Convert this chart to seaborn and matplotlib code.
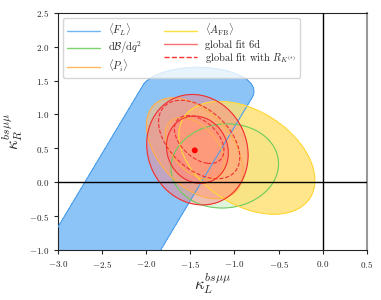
import numpy as np
import matplotlib
matplotlib.use("Agg")
import matplotlib.pyplot as plt
import seaborn as sns
from matplotlib.lines import Line2D

# Likelihood shapes (Gaussian approximations)
# each: centre x, centre y, sigma x, sigma y, correlation
fl_axis = [-2.035, 0.0, 65.3]          # point on band axis, axis angle (deg)
fl_width = [0.395, 0.25, 1.475, 0.30]  # sigma across, sigma of cap, cap start, cap tilt
dbr_par = [-1.11, 0.24, 0.245, 0.25, 0.05]
pi_par = [-1.45, 0.50, 0.22, 0.30, -0.45]
afb_par = [-0.86, 0.36, 0.31, 0.335, -0.40]
fit6d_par = [-1.42, 0.48, 0.231, 0.328, -0.10]
fitrk_par = [-1.40, 0.63, 0.185, 0.233, -0.45]
best_fit_x = [-1.45]
best_fit_y = [0.47]

levels = [2.30, 6.18]
xticks = [-3.0, -2.5, -2.0, -1.5, -1.0, -0.5, 0.0, 0.5]
yticks = [-1.0, -0.5, 0.0, 0.5, 1.0, 1.5, 2.0, 2.5]

sns.set_style("ticks")
plt.rcParams["font.family"] = "serif"
plt.rcParams["font.serif"] = ["cmr10", "DejaVu Serif"]
plt.rcParams["mathtext.fontset"] = "cm"
plt.rcParams["axes.formatter.use_mathtext"] = True
plt.rcParams["axes.unicode_minus"] = True

xg = np.linspace(-3.6, 1.0, 500)
yg = np.linspace(-1.6, 3.0, 500)
X, Y = np.meshgrid(xg, yg)


def chi2_gauss(p):
    cx, cy, sx, sy, rho = p
    dx = (X - cx) / sx
    dy = (Y - cy) / sy
    return (dx**2 - 2 * rho * dx * dy + dy**2) / (1 - rho**2)


def chi2_band():
    x0, y0, ang = fl_axis
    su, sv, v0, tilt = fl_width
    a = np.deg2rad(ang)
    v = (X - x0) * np.cos(a) + (Y - y0) * np.sin(a)
    u = -(X - x0) * np.sin(a) + (Y - y0) * np.cos(a)
    cap = np.clip(v + tilt * u - v0, 0, None)
    return (u / su) ** 2 + (cap / sv) ** 2


def draw(ax, z, fill, edge, alpha, lvls, ls="-", filled=True, lw=0.8):
    if filled:
        for lv in lvls[::-1]:
            ax.contourf(X, Y, z, levels=[0, lv], colors=[fill], alpha=alpha,
                        zorder=1)
    ax.contour(X, Y, z, levels=sorted(lvls), colors=[edge], linewidths=lw,
               linestyles=ls, zorder=3)


fig = plt.figure(figsize=(3.81, 3.0), dpi=100)
ax = fig.add_axes([0.152, 0.167, 0.811, 0.79])

draw(ax, chi2_band(), "#8cc4f8", "#4f9fec", 1.0, [levels[0]])
draw(ax, chi2_gauss(dbr_par), "#a6e39a", "#6ccc5c", 0.35, [levels[1]])
draw(ax, chi2_gauss(pi_par), "#ffbc78", "#ffb04a", 0.6, levels)
draw(ax, chi2_gauss(afb_par), "#ffe070", "#ffd83a", 0.8, [levels[1]])
draw(ax, chi2_gauss(fit6d_par), "#ff8080", "#f03030", 0.45, levels)
draw(ax, chi2_gauss(fitrk_par), "#ff8a8a", "#f03030", 0.0, levels,
     ls="--", filled=False)

sns.scatterplot(x=best_fit_x, y=best_fit_y, color="#ff0000", s=18,
                edgecolor="none", ax=ax, zorder=5)

ax.axhline(0, color="black", lw=1.0, zorder=4)
ax.axvline(0, color="black", lw=1.0, zorder=4)

ax.set_xlim(-3.0, 0.5)
ax.set_ylim(-1.0, 2.5)
ax.set_xticks(xticks)
ax.set_yticks(yticks)
ax.tick_params(labelsize=6.5, length=3, width=0.8)
ax.spines["right"].set_color("#999999")
ax.spines["right"].set_linewidth(1.5)

ax.set_xlabel(r"$\kappa_L^{bs\mu\mu}$", fontsize=12, labelpad=0)
ax.set_ylabel(r"$\kappa_R^{bs\mu\mu}$", fontsize=12, labelpad=3)

handles = [
    Line2D([], [], color="#74b6f5", lw=1),
    Line2D([], [], color="#7fd470", lw=1),
    Line2D([], [], color="#ffb860", lw=1),
    Line2D([], [], color="#ffdf40", lw=1),
    Line2D([], [], color="#ff7070", lw=1),
    Line2D([], [], color="#ff3030", lw=1, ls="--"),
]
labels = [r"$\langle F_L\rangle$", r"$\mathrm{d}\mathcal{B}/\mathrm{d}q^2$",
          r"$\langle P_i\rangle$", r"$\langle A_\mathrm{FB}\rangle$",
          "global fit 6d", r"global fit with $R_{K^{(*)}}$"]
ax.legend(handles, labels, loc="upper left", ncol=2, fontsize=7.5,
          framealpha=0.8, handlelength=3.2, columnspacing=2.0,
          labelspacing=0.15, borderaxespad=0.5, borderpad=0.35)

fig.savefig("out.png", dpi=100)
